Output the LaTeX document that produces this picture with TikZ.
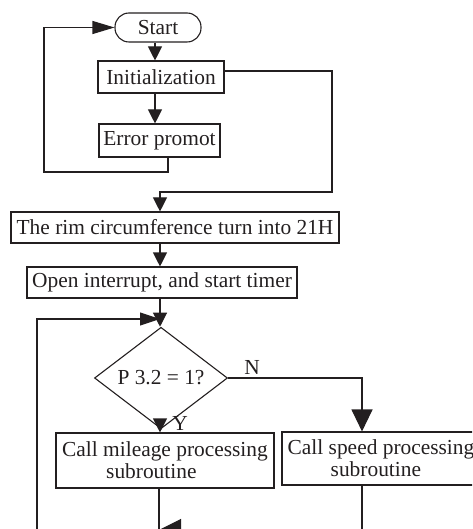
\documentclass[tikz,border=0pt]{standalone}
\usepackage{fontspec}
\setmainfont{Liberation Serif}
\usetikzlibrary{arrows.meta,shapes.geometric}
\definecolor{ink}{HTML}{231F20}
\begin{document}
\begin{tikzpicture}[x=1pt,y=-1pt,
  every node/.style={font=\fontsize{21.4}{22}\selectfont, inner sep=0pt, text=ink},
  box/.style={draw=ink, line width=1.1pt, rectangle},
  ln/.style={line width=1.1pt, draw=ink},
  arr/.style={-{Triangle[length=14pt,width=14pt]}}]
\useasboundingbox (0,0) rectangle (472,529);
\clip (0,0) rectangle (472,529);
\node[box, rounded corners=14pt, minimum width=86pt, minimum height=29pt] (start) at (158,27.5) {Start};
\node[box, minimum width=126pt, minimum height=32pt] (init) at (161,77) {Initialization};
\node[box, minimum width=121pt, minimum height=33pt] (err) at (159.5,140.5) {Error promot};
\node[box, minimum width=328pt, minimum height=31pt] (rim) at (175,227.5) {The rim circumference turn into 21H};
\node[box, minimum width=270pt, minimum height=31pt] (open) at (162,282.5) {Open interrupt, and start timer};
\node[draw=ink, line width=1.1pt, diamond, minimum width=133pt, minimum height=60pt] (dec) at (161,378) {P 3.2 = 1?};
\node[box, align=left, minimum width=218pt, minimum height=55pt] (mil) at (165,460.5) {Call mileage processing\\\hspace*{44pt}subroutine};
\node[box, align=left, minimum width=198pt, minimum height=53pt] (spd) at (381,458.5) {Call speed processing\\\hspace*{43pt}subroutine};
\coordinate (xa) at (155,0);
\coordinate (xb) at (160,0);
\coordinate (xc) at (159,0);
\coordinate (e1) at (168,0);
\coordinate (c1) at (44,172);
\coordinate (c2) at (332,192);
\coordinate (l0) at (37,540);
\coordinate (j) at (160,319);
\coordinate (n1) at (362,0);
\coordinate (b1) at (159,530);
\coordinate (m1) at (159,540);
\draw[ln,arr] (start.south -| xa) -- (init.north -| xa);
\draw[ln,arr] (init.south -| xa) -- (err.north -| xa);
\draw[ln,-{Triangle[length=22pt,width=13pt]}] (err.south -| e1) |- (c1) |- (start.west);
\draw[ln,arr] ([yshift=6pt]init.east) -| (c2) -| (rim.north -| xb);
\draw[ln,arr] (rim.south -| xb) -- (open.north -| xb);
\draw[ln,arr] (open.south -| xb) -- (dec.north -| xb);
\draw[ln,-{Triangle[length=20pt,width=13pt]}] (l0) |- (j);
\draw[ln,-{Triangle[length=22pt,width=21pt]}] (dec.east) -| (spd.north -| n1);
\node (lN) at (252,367) {N};
\draw[ln,arr] (dec.south -| xb) -- (mil.north -| xb);
\node (lY) at (180,423) {Y};
\draw[ln] (mil.south -| xc) -- (m1);
\draw[ln,-{Triangle[length=22pt,width=22pt]}] (spd.south -| n1) |- (b1);
\end{tikzpicture}
\end{document}
